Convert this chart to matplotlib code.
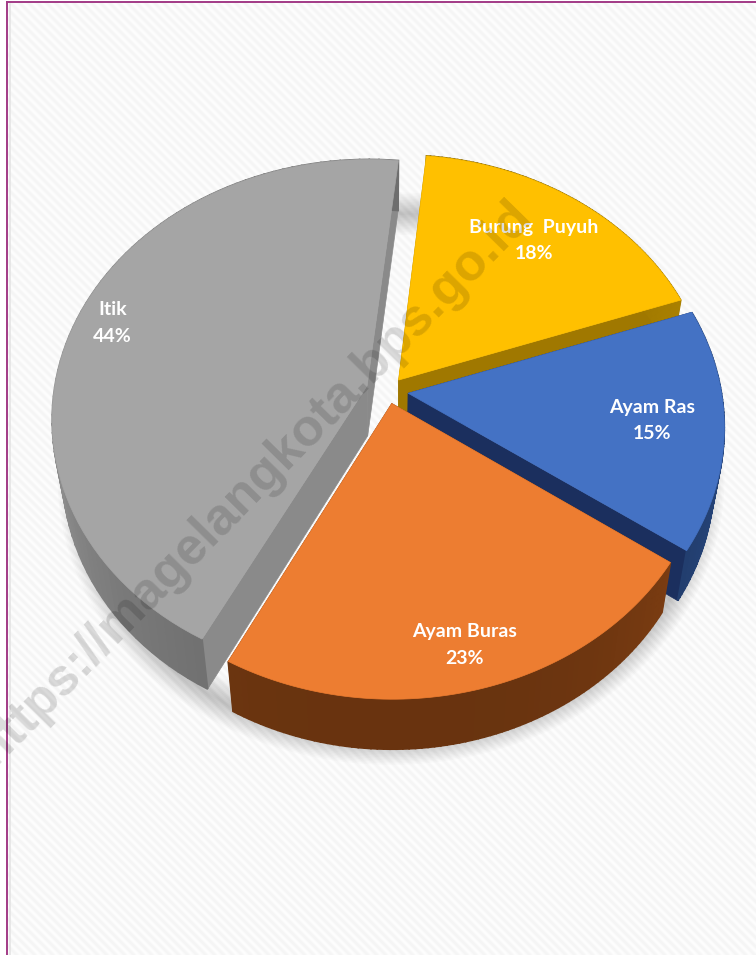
import numpy as np
import matplotlib
matplotlib.use("Agg")
import matplotlib.pyplot as plt
from matplotlib.patches import Polygon

categories = ["Burung  Puyuh", "Ayam Ras", "Ayam Buras", "Itik"]
shares = [18, 15, 23, 44]
top_colors = ["#ffc000", "#4472c4", "#ed7d31", "#a5a5a5"]
cut_colors = ["#a07800", "#1b2f5e", "#6b3410", "#8a8a8a"]
rim_colors = ["#8f6c00", "#1f3864", "#6e3610", "#747474"]

W, H = 756, 955
start_angle = 6.0
cx, cy, R, tilt, persp = 388, 391, 313, 0.817, 0.124
depth, shrink = 50, 0.97
explode = [0.055, 0.065, 0.05, 0.07]
label_frac = [0.81, 0.84, 0.91, 0.95]
draw_order = [0, 3, 1, 2]


def project(u, v, low=False):
    s = 1 / (1 + persp * v)
    x = cx + R * u * s
    y = cy - R * tilt * v * s
    if low:
        x = cx + (x - cx) * shrink
        y = y + depth
    return np.column_stack([x, y])


def disc(theta, r, off):
    t = np.radians(theta)
    return r * np.sin(t) + off[0], r * np.cos(t) + off[1]


fig = plt.figure(figsize=(W / 100, H / 100), dpi=100)
ax = fig.add_axes([0, 0, 1, 1])
ax.set_xlim(0, W)
ax.set_ylim(H, 0)
ax.axis("off")

# striped paper background
yy, xx = np.mgrid[0:H, 0:W]
stripes = 0.975 + 0.018 * np.sin((xx - yy) * 2 * np.pi / 9)
ax.imshow(stripes, cmap="gray", vmin=0, vmax=1, extent=(0, W, H, 0), aspect="auto", zorder=0)
ax.fill_between([0, 6], 0, H, color="white", zorder=1)
ax.fill_between([0, W], 0, 1, color="white", zorder=1)
ax.plot([7, 7], [H, 2], color="#a23a86", lw=1.4, zorder=2)
ax.plot([7, W], [2, 2], color="#a23a86", lw=1.4, zorder=2)
ax.plot([9.5, 9.5], [H, 4], color="#e4e4e4", lw=1.2, zorder=2)

angles = start_angle + np.cumsum([0] + shares) * 3.6
z = 5

# soft shadow under the pie
th = np.linspace(0, 360, 240)
ring = project(np.sin(np.radians(th)) * 1.02, np.cos(np.radians(th)) * 1.02, low=True)
for i in range(14):
    ax.add_patch(Polygon(ring + [3, 4], closed=True, fill=False, ec="black",
                         lw=2 + i * 2.2, alpha=0.014, zorder=3))

for i in draw_order:
    a0, a1 = angles[i], angles[i + 1]
    mid = (a0 + a1) / 2
    off = (explode[i] * np.sin(np.radians(mid)), explode[i] * np.cos(np.radians(mid)))
    th = np.linspace(a0, a1, 80)
    u, v = disc(th, 1.0, off)
    top = project(u, v)
    low = project(u, v, low=True)
    apex_top = project(np.array([off[0]]), np.array([off[1]]))
    apex_low = project(np.array([off[0]]), np.array([off[1]]), low=True)

    # cut faces
    for k in (0, -1):
        face = np.vstack([apex_top, top[k], low[k], apex_low])
        ax.add_patch(Polygon(face, closed=True, fc=cut_colors[i], ec=cut_colors[i], lw=0.5, zorder=z))
        z += 1

    # outer rim, darker toward the front
    base = np.array(matplotlib.colors.to_rgb(rim_colors[i]))
    for j in range(len(th) - 1):
        shade = 1 + 0.28 * abs(np.sin(np.radians(th[j]))) ** 3 - 0.05
        quad = np.vstack([top[j], top[j + 1], low[j + 1], low[j]])
        col = np.clip(base * shade, 0, 1)
        ax.add_patch(Polygon(quad, closed=True, fc=col, ec=col, lw=1.2, zorder=z))
    z += 1

    face = np.vstack([apex_top, top])
    ax.add_patch(Polygon(face, closed=True, fc=top_colors[i], ec=top_colors[i], lw=0.5, zorder=z))
    z += 1

for i, name in enumerate(categories):
    mid = (angles[i] + angles[i + 1]) / 2
    lu, lv = disc(mid, label_frac[i], (0, 0))
    p = project(np.array([lu]), np.array([lv]))[0]
    ax.text(p[0], p[1], f"{name}\n{shares[i]}%", color="white", family="Lato", fontweight="bold",
            fontsize=14, ha="center", va="center", linespacing=1.7, zorder=200)

ax.text(254, 483, "https://magelangkota.bps.go.id", family="Liberation Sans", fontweight="bold",
        fontsize=37.5, color="black", alpha=0.14, rotation=45.5, rotation_mode="anchor",
        ha="center", va="center", zorder=300)

fig.savefig("out.png", dpi=100)
